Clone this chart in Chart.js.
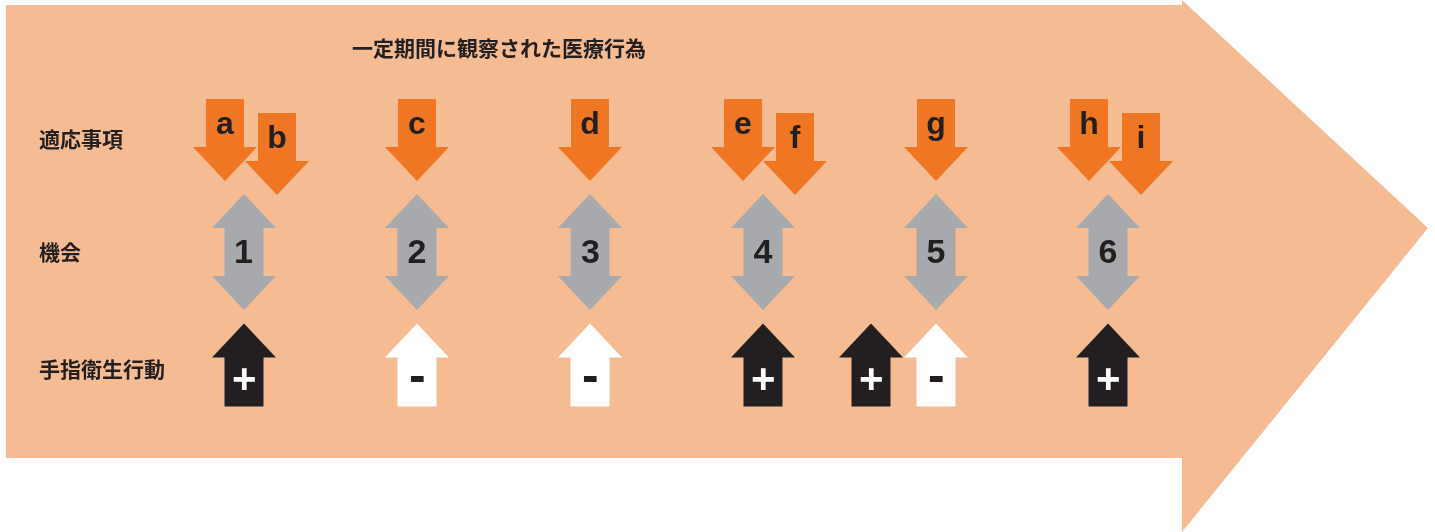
<!DOCTYPE html>
<html><head><meta charset="utf-8">
<script src="https://cdn.jsdelivr.net/npm/chart.js@4/dist/chart.umd.min.js"></script>
<style>html,body{margin:0;padding:0;background:#fff;}#wrap{width:1435px;height:532px;}</style>
</head><body><div id="wrap"><canvas id="c" width="1435" height="532"></canvas></div>
<script>
// ---- data ----
const titleText = '一定期間に観察された医療行為';
const rowLabels = ['適応事項', '機会', '手指衛生行動'];
const rowLabelY = [139, 252, 369];

const indications = ['a', 'b', 'c', 'd', 'e', 'f', 'g', 'h', 'i'];
const indicationX = [225, 277, 417, 590, 743, 795, 936, 1089, 1141];
const indicationY = [140, 154, 140, 140, 140, 154, 140, 140, 154];

const opportunities = ['1', '2', '3', '4', '5', '6'];
const opportunityX = [244, 417, 590, 763, 936, 1108];
const opportunityY = [252, 252, 252, 252, 252, 252];

const actions = ['+', '-', '-', '+', '+', '-', '+'];
const actionX = [244, 417, 590, 763, 871, 936, 1108];
const actionY = [365, 365, 365, 365, 365, 365, 365];

const timelineX = [6, 1182, 1182, 1428, 1182, 1182, 6];
const timelineY = [5, 5, 0, 228, 532, 458, 458];

// ---- styles ----
const PEACH = '#F5BB92', ORANGE = '#EF7724', GRAY = '#A7A9AC', DARK = '#231F20';
const CJK = '"Noto Sans CJK JP", "Noto Sans", sans-serif';
const LAT = '"Liberation Sans", Arial, sans-serif';

function pts(xs, ys) { return xs.map((x, i) => ({ x: x, y: ys[i] })); }

function polyArrow(ctx, pts, fill) {
  ctx.beginPath();
  pts.forEach((p, i) => i ? ctx.lineTo(p[0], p[1]) : ctx.moveTo(p[0], p[1]));
  ctx.closePath();
  ctx.fillStyle = fill;
  ctx.fill();
}
function downArrow(ctx, cx, cy, fill) {
  const h = 82, hh = 34, sw = 19, hw = 32, t = cy - h / 2, b = cy + h / 2;
  polyArrow(ctx, [[cx - sw, t], [cx + sw, t], [cx + sw, b - hh], [cx + hw, b - hh], [cx, b], [cx - hw, b - hh], [cx - sw, b - hh]], fill);
}
function upArrow(ctx, cx, cy, fill) {
  const h = 83, hh = 34, sw = 19.5, hw = 32, t = cy - h / 2, b = cy + h / 2;
  polyArrow(ctx, [[cx, t], [cx + hw, t + hh], [cx + sw, t + hh], [cx + sw, b], [cx - sw, b], [cx - sw, t + hh], [cx - hw, t + hh]], fill);
}
function dblArrow(ctx, cx, cy, fill) {
  const h = 116, hh = 34, sw = 19.5, hw = 32, t = cy - h / 2, b = cy + h / 2;
  polyArrow(ctx, [[cx, t], [cx + hw, t + hh], [cx + sw, t + hh], [cx + sw, b - hh], [cx + hw, b - hh], [cx, b], [cx - hw, b - hh], [cx - sw, b - hh], [cx - sw, t + hh], [cx - hw, t + hh]], fill);
}
// draw text with its ink centred on (x, y)
function inkCentered(ctx, s, x, y) {
  ctx.textAlign = 'left';
  ctx.textBaseline = 'alphabetic';
  const m = ctx.measureText(s);
  const w = m.actualBoundingBoxLeft + m.actualBoundingBoxRight;
  const h = m.actualBoundingBoxAscent + m.actualBoundingBoxDescent;
  ctx.fillText(s, x - w / 2 + m.actualBoundingBoxLeft, y - h / 2 + m.actualBoundingBoxAscent);
}

const diagramPlugin = {
  id: 'diagram',
  beforeDatasetsDraw(chart) {
    const ctx = chart.ctx, xs = chart.scales.x, ys = chart.scales.y;
    ctx.save();
    polyArrow(ctx, timelineX.map((x, i) => [xs.getPixelForValue(x), ys.getPixelForValue(timelineY[i])]), PEACH);
    ctx.fillStyle = DARK;
    ctx.textBaseline = 'middle';
    ctx.font = 'bold 21px ' + CJK;
    ctx.textAlign = 'center';
    ctx.fillText(titleText, xs.getPixelForValue(499), ys.getPixelForValue(48));
    ctx.textAlign = 'left';
    rowLabels.forEach((l, i) => ctx.fillText(l, xs.getPixelForValue(39), ys.getPixelForValue(rowLabelY[i])));
    ctx.restore();
  },
  afterDatasetsDraw(chart) {
    const ctx = chart.ctx;
    ctx.save();
    chart.data.datasets.forEach((ds, di) => {
      const meta = chart.getDatasetMeta(di);
      meta.data.forEach((el, i) => {
        const x = el.x, y = el.y, lab = ds.labels[i];
        if (ds.kind === 'indication') {
          downArrow(ctx, x, y, ORANGE);
          ctx.fillStyle = DARK;
          ctx.font = 'bold 32px ' + LAT;
          ctx.textAlign = 'center';
          ctx.textBaseline = 'alphabetic';
          ctx.fillText(lab, x, y - 6.5);
        } else if (ds.kind === 'opportunity') {
          dblArrow(ctx, x, y, GRAY);
          ctx.fillStyle = DARK;
          ctx.font = 'bold 34px ' + LAT;
          inkCentered(ctx, lab, x, y - 1);
        } else {
          const pos = lab === '+';
          upArrow(ctx, x, y, pos ? DARK : '#FFFFFF');
          ctx.fillStyle = pos ? '#FFFFFF' : DARK;
          ctx.font = 'bold ' + (pos ? 42 : 50) + 'px ' + LAT;
          inkCentered(ctx, lab, x, y + 13.5);
        }
      });
    });
    ctx.restore();
  }
};

new Chart(document.getElementById('c'), {
  type: 'scatter',
  data: {
    datasets: [
      { kind: 'indication', labels: indications, data: pts(indicationX, indicationY), pointRadius: 0 },
      { kind: 'opportunity', labels: opportunities, data: pts(opportunityX, opportunityY), pointRadius: 0 },
      { kind: 'action', labels: actions, data: pts(actionX, actionY), pointRadius: 0 }
    ]
  },
  options: {
    responsive: false,
    animation: false,
    layout: { padding: 0 },
    plugins: { legend: { display: false }, tooltip: { enabled: false }, title: { display: false } },
    events: [],
    scales: {
      x: { type: 'linear', min: 0, max: 1435, display: false },
      y: { type: 'linear', min: 0, max: 532, reverse: true, display: false }
    }
  },
  plugins: [diagramPlugin]
});
</script></body></html>
